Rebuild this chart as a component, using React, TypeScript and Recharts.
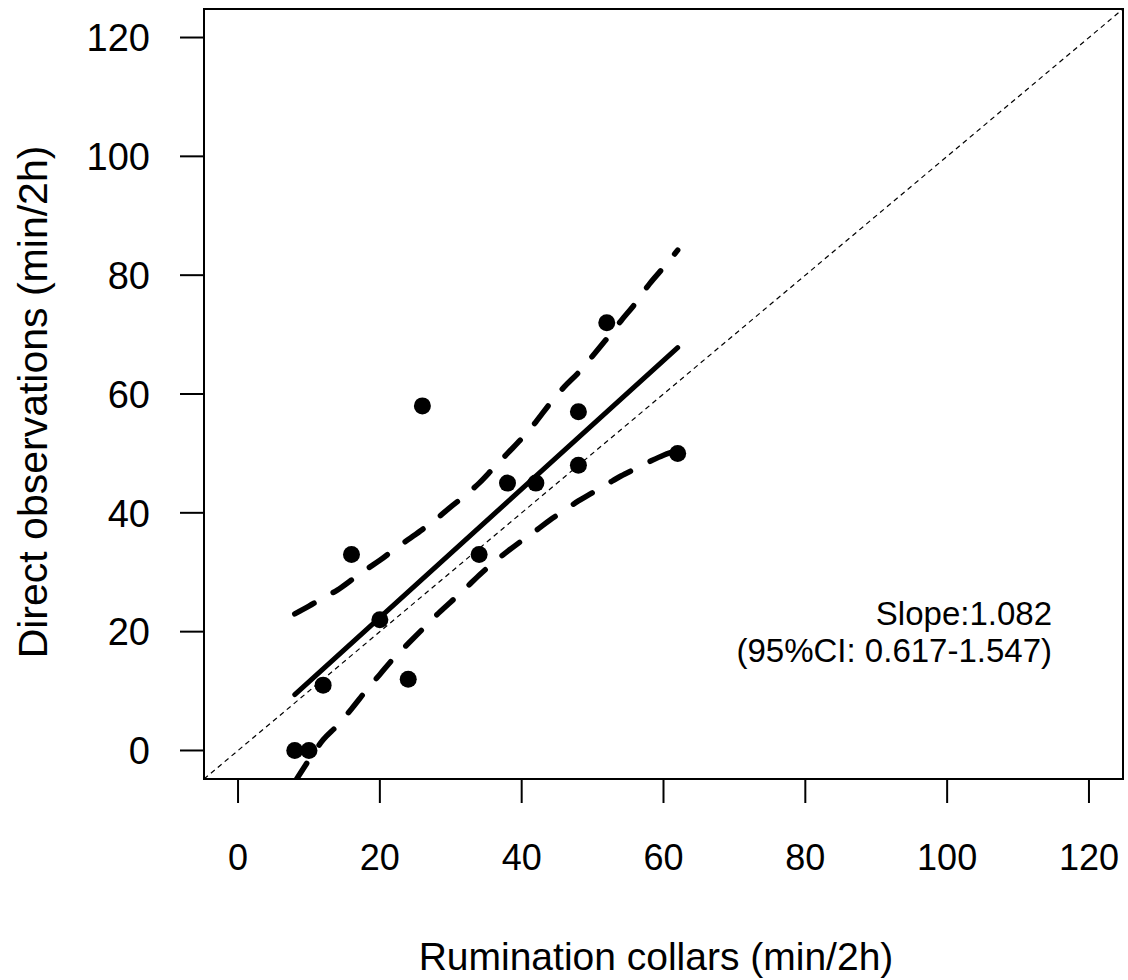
import { ComposedChart, Line, Scatter, XAxis, YAxis, ReferenceLine, ReferenceArea } from 'recharts';

// observed pairs: rumination collars (x) vs direct observations (y), min/2h
const collarMin = [8, 10, 12, 16, 20, 24, 26, 34, 38, 42, 48, 48, 52, 62];
const observedMin = [0, 0, 11, 33, 22, 12, 58, 33, 45, 45, 57, 48, 72, 50];

// fitted line ends
const fitX = [8, 62];
const fitY = [9.4, 67.8];

// 95% band
const bandX = [8, 10, 12, 14, 16, 18, 20, 22, 24, 26, 28, 30, 32, 34, 36, 38, 40, 42, 44, 46, 48, 50, 52, 54, 56, 58, 60, 62];
const bandUpper = [23, 24.3, 25.7, 27, 28.7, 30.4, 32, 33.8, 35.5, 37.2, 39, 41, 42.9, 45, 47.5, 50, 52.5, 55.3, 58.4, 61.2, 63.6, 66.4, 69.3, 72.3, 75.2, 78.5, 81.3, 84.2];
const bandLower = [-5.3, -1.6, 1.8, 4.2, 7, 10, 12.8, 15.6, 18, 20.4, 22.8, 25, 27.2, 29.5, 31.6, 33.5, 35.3, 37, 38.8, 40.4, 42, 43.4, 44.8, 46.2, 47.4, 48.6, 49.7, 50.5];

const axisTicks = [0, 20, 40, 60, 80, 100, 120];
const DOMAIN: [number, number] = [-4.8, 124.8];

const points = collarMin.map((x, i) => ({ x, y: observedMin[i] }));
const fitLine = fitX.map((x, i) => ({ x, y: fitY[i] }));
const upper = bandX.map((x, i) => ({ x, y: bandUpper[i] }));
const lower = bandX.map((x, i) => ({ x, y: bandLower[i] }));

const FONT = '"Liberation Sans", Arial, sans-serif';

const XTick = ({ x, y, payload }: any) => (
  <text x={x} y={y + 65} textAnchor="middle" fontSize={36} fontFamily={FONT} fill="#000">
    {payload.value}
  </text>
);

const YTick = ({ x, y, payload }: any) => (
  <text x={x - 28} y={y} dy="0.36em" textAnchor="end" fontSize={38} fontFamily={FONT} fill="#000">
    {payload.value}
  </text>
);

const Dot = ({ cx, cy }: any) => <circle cx={cx} cy={cy} r={8.5} fill="#000" />;

export default function App() {
  return (
    <div style={{ position: 'absolute', left: 0, top: 0, background: '#fff' }}>
      <ComposedChart width={1128} height={980} margin={{ top: 9, right: 5, bottom: 0, left: 0 }}>
        <XAxis
          type="number"
          dataKey="x"
          domain={DOMAIN}
          ticks={axisTicks}
          allowDataOverflow
          height={201}
          tickSize={24}
          axisLine={false}
          tickLine={{ stroke: '#000', strokeWidth: 2 }}
          tick={<XTick />}
        />
        <YAxis
          type="number"
          dataKey="y"
          domain={DOMAIN}
          ticks={axisTicks}
          allowDataOverflow
          width={204}
          tickSize={24}
          axisLine={false}
          tickLine={{ stroke: '#000', strokeWidth: 2 }}
          tick={<YTick />}
        />
        <ReferenceArea x1={-4.8} x2={124.8} y1={-4.8} y2={124.8} fill="none" stroke="#000" strokeWidth={2} fillOpacity={0} />
        <ReferenceLine
          segment={[{ x: -4.8, y: -4.8 }, { x: 124.8, y: 124.8 }]}
          stroke="#000"
          strokeWidth={1.2}
          strokeDasharray="5 4"
        />
        <Line data={upper} dataKey="y" type="monotone" stroke="#000" strokeWidth={5.5} strokeDasharray="22 22" strokeLinecap="round" dot={false} isAnimationActive={false} />
        <Line data={lower} dataKey="y" type="monotone" stroke="#000" strokeWidth={5.5} strokeDasharray="22 22" strokeLinecap="round" dot={false} isAnimationActive={false} />
        <Line data={fitLine} dataKey="y" type="linear" stroke="#000" strokeWidth={5} strokeLinecap="round" dot={false} isAnimationActive={false} />
        <Scatter data={points} dataKey="y" shape={<Dot />} isAnimationActive={false} />
        <text x={1052} y={625} textAnchor="end" fontSize={33} fontFamily={FONT} fill="#000">Slope:1.082</text>
        <text x={1052} y={662} textAnchor="end" fontSize={33} fontFamily={FONT} fill="#000">(95%CI: 0.617-1.547)</text>
        <text x={656} y={970} textAnchor="middle" fontSize={39} fontFamily={FONT} fill="#000">Rumination collars (min/2h)</text>
        <text x={47} y={402} transform="rotate(-90 47 402)" textAnchor="middle" fontSize={41} fontFamily={FONT} fill="#000">
          Direct observations (min/2h)
        </text>
      </ComposedChart>
    </div>
  );
}
